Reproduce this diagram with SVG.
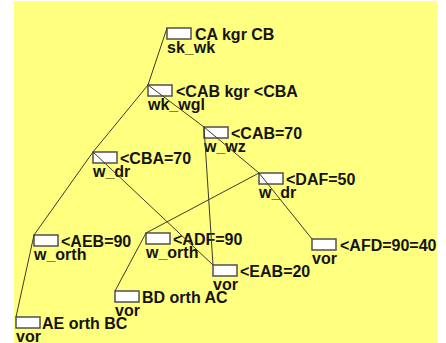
<svg xmlns="http://www.w3.org/2000/svg" width="446" height="343" viewBox="0 0 446 343">
  <style>
    .box { fill: #ffffff; stroke: #505050; stroke-width: 1.5; }
    .lbl { font-family: "Liberation Sans", Arial, sans-serif; font-size: 16px; font-weight: bold; fill: #141414; }
    .edge { stroke: #3a3a2a; stroke-width: 1; fill: none; }
  </style>
  <defs>
    <clipPath id="panel">
      <rect x="14" y="1" width="423" height="342"/>
    </clipPath>
  </defs>
  <rect x="0" y="0" width="446" height="343" fill="#ffffff"/>
  <rect x="14" y="1" width="423" height="342" fill="#ffff80"/>
  <g clip-path="url(#panel)">
    <g id="n1"><rect class="box" x="167" y="28" width="24" height="11"/><text class="lbl" x="195" y="40">CA kgr CB</text><text class="lbl" x="167" y="53">sk_wk</text></g>
    <g id="n2"><rect class="box" x="148" y="85" width="24" height="11"/><text class="lbl" x="176" y="97">&lt;CAB kgr &lt;CBA</text><text class="lbl" x="148" y="110">wk_wgl</text></g>
    <g id="n3"><rect class="box" x="204" y="127" width="24" height="11"/><text class="lbl" x="231" y="139">&lt;CAB=70</text><text class="lbl" x="204" y="152">w_wz</text></g>
    <g id="n4"><rect class="box" x="93" y="152" width="24" height="11"/><text class="lbl" x="120" y="164">&lt;CBA=70</text><text class="lbl" x="93" y="177">w_dr</text></g>
    <g id="n5"><rect class="box" x="259" y="173" width="24" height="11"/><text class="lbl" x="286" y="185">&lt;DAF=50</text><text class="lbl" x="259" y="198">w_dr</text></g>
    <g id="n6"><rect class="box" x="34" y="235" width="24" height="11"/><text class="lbl" x="61" y="247">&lt;AEB=90</text><text class="lbl" x="34" y="260">w_orth</text></g>
    <g id="n7"><rect class="box" x="146" y="233" width="24" height="11"/><text class="lbl" x="173" y="245">&lt;ADF=90</text><text class="lbl" x="146" y="258">w_orth</text></g>
    <g id="n8"><rect class="box" x="115" y="291" width="24" height="11"/><text class="lbl" x="142" y="303">BD orth AC</text><text class="lbl" x="115" y="316">vor</text></g>
    <g id="n9"><rect class="box" x="16" y="317" width="24" height="11"/><text class="lbl" x="42" y="329">AE orth BC</text><text class="lbl" x="16" y="342">vor</text></g>
    <g id="n10"><rect class="box" x="213" y="265" width="24" height="11"/><text class="lbl" x="240" y="277">&lt;EAB=20</text><text class="lbl" x="213" y="290">vor</text></g>
    <g id="n11"><rect class="box" x="312" y="239" width="24" height="11"/><text class="lbl" x="340" y="251">&lt;AFD=90=40</text><text class="lbl" x="312" y="264">vor</text></g>

    <!-- edges run from the parent's top-left corner to the child's top-left corner -->
    <g id="edges" class="edge">
      <line x1="167" y1="28" x2="148" y2="85"/>
      <line x1="148" y1="85" x2="204" y2="127"/>
      <line x1="148" y1="85" x2="93" y2="152"/>
      <line x1="204" y1="127" x2="259" y2="173"/>
      <line x1="204" y1="127" x2="213" y2="265"/>
      <line x1="93" y1="152" x2="34" y2="235"/>
      <line x1="93" y1="152" x2="213" y2="265"/>
      <line x1="259" y1="173" x2="146" y2="233"/>
      <line x1="259" y1="173" x2="312" y2="239"/>
      <line x1="34" y1="235" x2="16" y2="317"/>
      <line x1="146" y1="233" x2="115" y2="291"/>
    </g>
  </g>
</svg>
